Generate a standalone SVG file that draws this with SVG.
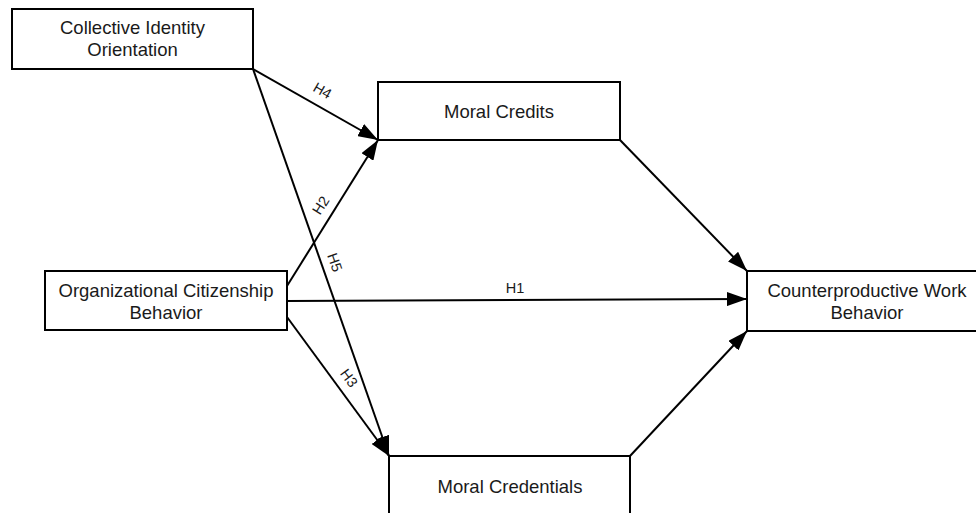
<svg xmlns="http://www.w3.org/2000/svg" width="976" height="513" viewBox="0 0 976 513">
<style>
.box{fill:#fff;stroke:#000;stroke-width:2}
.t{font-family:"Liberation Sans",Arial,sans-serif;font-size:18.5px;fill:#1a1a1a;text-anchor:middle}
.lb{font-family:"Liberation Sans",Arial,sans-serif;font-size:14.5px;fill:#1a1a1a;text-anchor:middle}
.c{stroke:#000;stroke-width:2;fill:none;marker-end:url(#ah)}
</style>
<defs>
<marker id="ah" viewBox="0 0 20 14" refX="20" refY="7" markerWidth="20" markerHeight="14" markerUnits="userSpaceOnUse" orient="auto">
<path d="M0,0 L20,7 L0,14 Z" fill="#000"/>
</marker>
</defs>
<rect width="976" height="513" fill="#fff"/>
<g id="connectors">
<line class="c" x1="253" y1="69" x2="378" y2="140"/>
<line class="c" x1="253" y1="69" x2="389" y2="456"/>
<line class="c" x1="287" y1="286" x2="378" y2="140"/>
<line class="c" x1="287" y1="301" x2="747" y2="299"/>
<line class="c" x1="287" y1="317" x2="389" y2="456"/>
<line class="c" x1="620" y1="140" x2="747" y2="271"/>
<line class="c" x1="630" y1="456" x2="747" y2="331"/>
<text class="lb" transform="translate(320,95) rotate(29.6)">H4</text>
<text class="lb" transform="translate(325,208) rotate(-58)">H2</text>
<text class="lb" transform="translate(330,264) rotate(70.6)">H5</text>
<text class="lb" transform="translate(345,381) rotate(53.7)">H3</text>
<text class="lb" x="515" y="293">H1</text>
</g>
<g id="cio">
<rect class="box" x="12" y="9" width="241" height="60"/>
<text class="t" x="132.5" y="34">Collective Identity</text>
<text class="t" x="132.5" y="56">Orientation</text>
</g>
<g id="moral-credits">
<rect class="box" x="378" y="82" width="242" height="58"/>
<text class="t" x="499" y="118">Moral Credits</text>
</g>
<g id="ocb">
<rect class="box" x="45" y="271" width="242" height="59"/>
<text class="t" x="166" y="297">Organizational Citizenship</text>
<text class="t" x="166" y="319">Behavior</text>
</g>
<g id="cwb">
<rect class="box" x="747" y="271" width="240" height="60"/>
<text class="t" x="867" y="297">Counterproductive Work</text>
<text class="t" x="867" y="319">Behavior</text>
</g>
<g id="moral-credentials">
<rect class="box" x="389" y="456" width="241" height="70"/>
<text class="t" x="510" y="493">Moral Credentials</text>
</g>
</svg>
